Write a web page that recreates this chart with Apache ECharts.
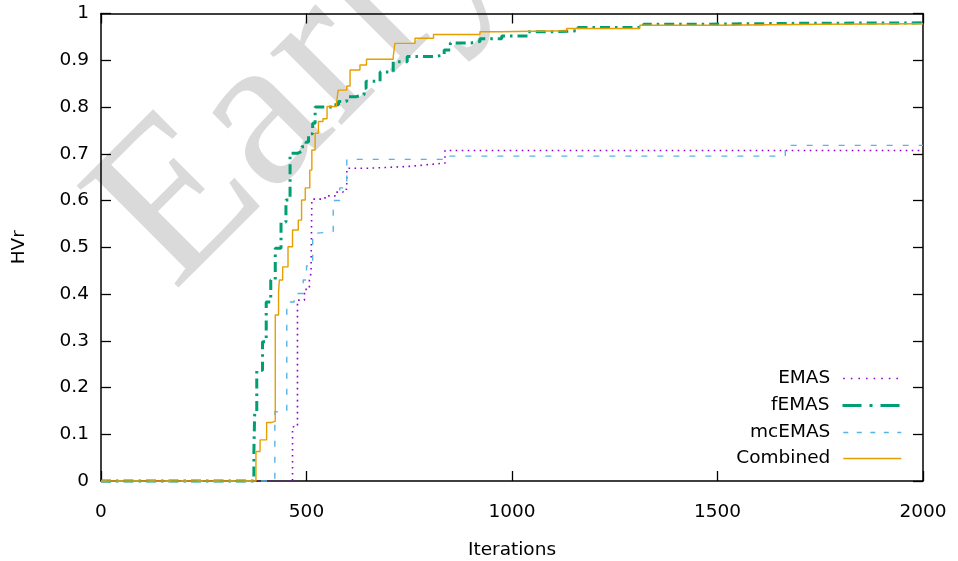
<!DOCTYPE html>
<html>
<head>
<meta charset="utf-8">
<script src="https://cdn.jsdelivr.net/npm/echarts@6/dist/echarts.min.js"></script>
<style>
  html, body { margin: 0; padding: 0; background: #fff; }
  #chart { width: 958px; height: 561px; }
</style>
</head>
<body>
<div id="chart"></div>
<script>
// Hypervolume ratio (HVr) against iteration count, step traces per algorithm.
// Each pair is [iteration, HVr reached from that iteration on].
var emas = [
  [0, 0], [466, 0.116], [478, 0.387], [495, 0.41], [507, 0.43], [511, 0.445],
  [513, 0.603], [545, 0.61], [570, 0.618], [589, 0.624], [598, 0.669],
  [650, 0.673], [750, 0.677], [800, 0.68], [837, 0.707], [2000, 0.707]
];
var femas = [
  [0, 0], [372, 0.063], [374, 0.148], [379, 0.237], [393, 0.298], [402, 0.383],
  [413, 0.43], [424, 0.498], [438, 0.554], [450, 0.601], [460, 0.701],
  [478, 0.705], [488, 0.715], [499, 0.725], [505, 0.743], [515, 0.765],
  [521, 0.8], [565, 0.805], [578, 0.812], [598, 0.822], [620, 0.826],
  [640, 0.84], [645, 0.855], [679, 0.875], [711, 0.897], [745, 0.908],
  [810, 0.911], [835, 0.922], [850, 0.937], [900, 0.94], [922, 0.946],
  [975, 0.952], [1039, 0.961], [1100, 0.963], [1160, 0.97], [1320, 0.977],
  [1450, 0.979], [1700, 0.98], [2000, 0.98]
];
var mcemas = [
  [0, 0], [423, 0.148], [452, 0.383], [470, 0.401], [492, 0.43], [500, 0.46],
  [515, 0.53], [522, 0.533], [565, 0.6], [581, 0.627], [598, 0.688],
  [838, 0.695], [1665, 0.718], [2000, 0.718]
];
var combined = [
  [0, 0], [377, 0.063], [387, 0.088], [403, 0.125], [415, 0.128], [424, 0.355],
  [432, 0.405], [434, 0.43], [442, 0.458], [455, 0.501], [466, 0.537],
  [480, 0.558], [488, 0.601], [497, 0.627], [508, 0.665], [513, 0.708],
  [521, 0.744], [529, 0.769], [540, 0.775], [550, 0.801], [573, 0.808],
  [577, 0.836], [598, 0.845], [606, 0.879], [630, 0.89], [646, 0.902],
  [711, 0.907], [715, 0.936], [764, 0.947], [809, 0.955], [922, 0.961],
  [971, 0.963], [1133, 0.968], [1311, 0.975], [1500, 0.977], [1750, 0.978],
  [2000, 0.979]
];

var seriesNames = ['EMAS', 'fEMAS', 'mcEMAS', 'Combined'];
var xTicks = [0, 500, 1000, 1500, 2000];
var yTicks = ['0', '0.1', '0.2', '0.3', '0.4', '0.5', '0.6', '0.7', '0.8', '0.9', '1'];

var FONT = 'DejaVu Sans';
var FS = 18.5;

var colors = {
  EMAS: '#9400d3',
  fEMAS: '#009e73',
  mcEMAS: '#56b4e9',
  Combined: '#e69f00'
};
var widths = { EMAS: 1.6, fEMAS: 3, mcEMAS: 1.4, Combined: 1.4 };
var dashes = { EMAS: [1.6, 4.4], fEMAS: [10, 5, 2.5, 5], mcEMAS: [6, 10], Combined: 'solid' };
var legendDashes = { EMAS: [1.6, 6], fEMAS: [19, 8, 3, 8], mcEMAS: [5, 8.5], Combined: 'solid' };
var legendTops = [369, 396, 423, 449];

var chart = echarts.init(document.getElementById('chart'), null, { renderer: 'canvas' });

var xAxisBase = {
  type: 'value', min: 0, max: 2000, interval: 500,
  axisLine: { show: true, onZero: false, lineStyle: { color: '#000', width: 1.5 } },
  axisTick: { show: true, inside: true, length: 10, lineStyle: { color: '#000', width: 1.3 } },
  splitLine: { show: false }
};
var yAxisBase = {
  type: 'value', min: 0, max: 1, interval: 0.1,
  axisLine: { show: true, onZero: false, lineStyle: { color: '#000', width: 1.5 } },
  axisTick: { show: true, inside: true, length: 10, lineStyle: { color: '#000', width: 1.3 } },
  splitLine: { show: false }
};

var datasets = [emas, femas, mcemas, combined];

var option = {
  animation: false,
  backgroundColor: '#fff',
  grid: {
    left: 101, right: 35, top: 13.5, bottom: 80,
    containLabel: false, outerBoundsMode: 'none'
  },
  graphic: [{
    type: 'text',
    z: -10,
    x: 211, y: 329,
    rotation: Math.PI / 4,
    silent: true,
    style: {
      text: 'Early',
      font: '220px "Liberation Serif"',
      fill: '#dadada',
      verticalAlign: 'bottom',
      align: 'left'
    }
  }],
  xAxis: [
    Object.assign({}, xAxisBase, {
      position: 'bottom',
      name: 'Iterations', nameLocation: 'middle', nameGap: 60,
      nameTextStyle: { fontFamily: FONT, fontSize: FS, color: '#000' },
      axisLabel: {
        margin: 22, fontFamily: FONT, fontSize: FS, color: '#000',
        formatter: function (v) { return xTicks.indexOf(v) >= 0 ? String(v) : ''; }
      }
    }),
    Object.assign({}, xAxisBase, { position: 'top', axisLabel: { show: false } })
  ],
  yAxis: [
    Object.assign({}, yAxisBase, {
      position: 'left',
      name: 'HVr', nameLocation: 'middle', nameGap: 72, nameRotate: 90,
      nameTextStyle: { fontFamily: FONT, fontSize: FS, color: '#000' },
      axisLabel: {
        margin: 12, fontFamily: FONT, fontSize: FS, color: '#000',
        formatter: function (v) { return yTicks[Math.round(v * 10)]; }
      }
    }),
    Object.assign({}, yAxisBase, { position: 'right', axisLabel: { show: false } })
  ],
  legend: seriesNames.map(function (name, i) {
    return {
      data: [name],
      orient: 'vertical',
      right: 56,
      top: legendTops[i],
      padding: 0,
      align: 'right',
      itemWidth: 58,
      itemHeight: 20,
      selectedMode: false,
      itemStyle: { opacity: 0 },
      lineStyle: { type: legendDashes[name], width: widths[name], color: colors[name] },
      textStyle: { fontFamily: FONT, fontSize: FS, color: '#000', padding: [0, 8, 0, 0] }
    };
  }),
  series: seriesNames.map(function (name, i) {
    return {
      name: name,
      type: 'line',
      step: 'end',
      data: datasets[i],
      xAxisIndex: 0,
      yAxisIndex: 0,
      symbol: 'none',
      showSymbol: false,
      clip: false,
      color: colors[name],
      lineStyle: { color: colors[name], width: widths[name], type: dashes[name] },
      z: 2 + i
    };
  })
};

chart.setOption(option);
</script>
</body>
</html>
